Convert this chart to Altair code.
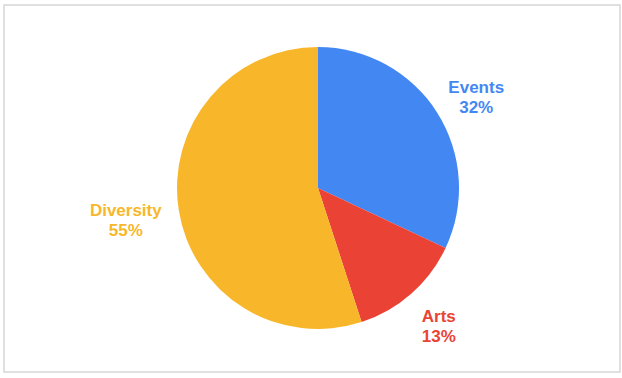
import altair as alt
import pandas as pd

categories = ["Events", "Arts", "Diversity"]
values = [32, 13, 55]
colors = ["#4387F3", "#EA4335", "#F8B72A"]

df = pd.DataFrame({
    "category": categories,
    "value": values,
    "order": list(range(len(categories))),
})
df["label"] = [f"{c}\n{v}%" for c, v in zip(categories, values)]

color_scale = alt.Scale(domain=categories, range=colors)
cx, cy = 314, 183

arcs = alt.Chart(df).mark_arc(outerRadius=141, stroke=None).encode(
    theta=alt.Theta("value:Q", stack=True),
    order=alt.Order("order:Q"),
    color=alt.Color("category:N", scale=color_scale, legend=None),
    x=alt.value(cx), y=alt.value(cy),
)

labels = alt.Chart(df).transform_joinaggregate(
    total="sum(value)"
).transform_window(
    cum="sum(value)", sort=[alt.SortField("order")], frame=[None, 0]
).transform_calculate(
    mid="(datum.cum - datum.value / 2) / datum.total * 2 * PI",
    lx=f"{cx} + (173 + 2.4 * length(datum.category)) * sin(datum.mid)",
    ly=f"{cy} - 178 * cos(datum.mid) + 5",
).mark_text(
    fontSize=17, fontWeight="bold", font="Liberation Sans",
    lineBreak="\n", lineHeight=20, align="center", baseline="middle", dy=-10,
).encode(
    x=alt.X("lx:Q", scale=None),
    y=alt.Y("ly:Q", scale=None),
    text="label:N",
    color=alt.Color("category:N", scale=color_scale, legend=None),
)

chart = alt.layer(arcs, labels).properties(
    width=616, height=367,
    autosize=alt.AutoSizeParams(type="none"),
    padding={"left": 4, "top": 5, "right": 2, "bottom": 6},
    background="white",
).configure_view(stroke="#d6d6d6", strokeWidth=1.5)

chart.save("out.html", embed_options={"renderer": "svg", "actions": False})
